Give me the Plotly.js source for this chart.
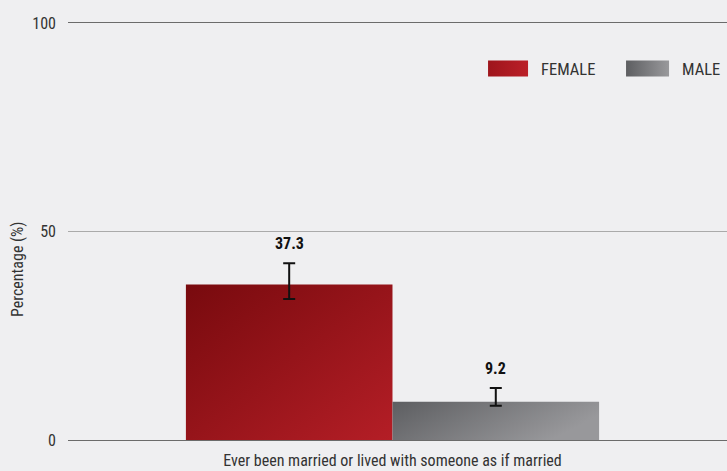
<!DOCTYPE html>
<html><head><meta charset="utf-8">
<script src="https://cdn.plot.ly/plotly-3.0.1.min.js"></script>
<style>html,body{margin:0;padding:0;background:#efeff1;}</style>
</head><body>
<div id="chart" style="width:727px;height:471px;"></div>
<script>
var categories = ["Ever been married or lived with someone as if married"];
var seriesNames = ["FEMALE", "MALE"];
var femaleValues = [37.3];
var maleValues = [9.2];
var femaleUpper = [42.4], femaleLower = [33.8];
var maleUpper = [12.5], maleLower = [8.2];
var valueLabels = [["37.3"], ["9.2"]];
var yTitle = "Percentage (%)";

var bargap = 0.373;
var fontFam = "'Roboto Condensed', Roboto, sans-serif";

function errs(vals, up, lo) {
  return {type: 'data', symmetric: false,
    array: vals.map(function(v, i){ return up[i] - v; }),
    arrayminus: vals.map(function(v, i){ return v - lo[i]; }),
    color: '#111', thickness: 2, width: 6};
}

var traces = [
  {type: 'bar', name: seriesNames[0], x: categories, y: femaleValues,
   marker: {color: '#a61b22'}, error_y: errs(femaleValues, femaleUpper, femaleLower), hoverinfo: 'none'},
  {type: 'bar', name: seriesNames[1], x: categories, y: maleValues,
   marker: {color: '#7d7e81'}, error_y: errs(maleValues, maleUpper, maleLower), hoverinfo: 'none'}
];

var half = (1 - bargap) / 4;
var annotations = [
  {x: -half, y: femaleUpper[0], text: '<b>' + valueLabels[0][0] + '</b>'},
  {x: half, y: maleUpper[0], text: '<b>' + valueLabels[1][0] + '</b>'}
].map(function(a){
  return Object.assign({xref: 'x', yref: 'y', showarrow: false, yanchor: 'bottom', yshift: 8,
    font: {family: fontFam, size: 16, color: '#111'}}, a);
});
annotations.push({xref: 'paper', yref: 'paper', x: -0.0774, y: 0.41, xanchor: 'center', yanchor: 'middle',
  textangle: -90, showarrow: false, text: yTitle, font: {family: fontFam, size: 16, color: '#333'}});

var layout = {
  width: 727, height: 471,
  paper_bgcolor: '#efeff1', plot_bgcolor: '#efeff1',
  margin: {l: 68, r: 0, t: 23, b: 31, autoexpand: false},
  barmode: 'group', bargap: bargap, bargroupgap: 0,
  showlegend: true,
  legend: {orientation: 'h', x: 0.6374, xanchor: 'left', y: 0.89, yanchor: 'middle',
    font: {family: fontFam, size: 16.5, color: '#333'}, itemwidth: 43, bgcolor: 'rgba(0,0,0,0)',
    traceorder: 'normal', entrywidth: 83},
  xaxis: {type: 'category', range: [-0.4924, 0.5076], showgrid: false, zeroline: false,
    showline: true, mirror: true, linecolor: '#6b6b6b', linewidth: 1,
    tickfont: {family: fontFam, size: 16, color: '#333'}, ticks: '', ticklabelstandoff: 6},
  yaxis: {range: [0, 100], dtick: 50, showgrid: true, gridcolor: '#aaaaaa', gridwidth: 1,
    zeroline: false, showline: false, ticks: '', ticklabelstandoff: 11,
    tickfont: {family: fontFam, size: 16, color: '#333'}},
  annotations: annotations
};

Plotly.newPlot('chart', traces, layout, {displayModeBar: false, staticPlot: true}).then(function(){
  var svg = document.querySelector('#chart .main-svg');
  var ns = 'http://www.w3.org/2000/svg';
  var defs = svg.querySelector('defs') || svg.insertBefore(document.createElementNS(ns, 'defs'), svg.firstChild);
  function grad(id, c1, c2, x2, y2) {
    var g = document.createElementNS(ns, 'linearGradient');
    g.setAttribute('id', id); g.setAttribute('x1', '0'); g.setAttribute('y1', '0');
    g.setAttribute('x2', x2); g.setAttribute('y2', y2);
    [[0, c1], [1, c2]].forEach(function(s){
      var st = document.createElementNS(ns, 'stop');
      st.setAttribute('offset', s[0]); st.setAttribute('stop-color', s[1]);
      g.appendChild(st);
    });
    defs.appendChild(g);
  }
  grad('gf', '#780a0e', '#b41e26', '1', '1');
  grad('gm', '#5d5e61', '#98989b', '1', '0.35');
  grad('lf', '#9c141b', '#bb2028', '1', '0');
  grad('lm', '#5d5e61', '#99999c', '1', '0');
  var bars = document.querySelectorAll('#chart .barlayer .trace');
  bars[0].querySelectorAll('path').forEach(function(p){ p.style.fill = 'url(#gf)'; });
  bars[1].querySelectorAll('path').forEach(function(p){ p.style.fill = 'url(#gm)'; });
  var leg = document.querySelectorAll('#chart .legend .traces');
  var ids = ['lf', 'lm'];
  leg.forEach(function(t, i){
    t.querySelectorAll('.legendpoints path').forEach(function(p){
      p.setAttribute('d', 'M-29.5,8H13.5V-8H-29.5Z');
      p.style.fill = 'url(#' + ids[i] + ')';
      p.style.stroke = 'none';
    });
  });
});
</script>
</body></html>
